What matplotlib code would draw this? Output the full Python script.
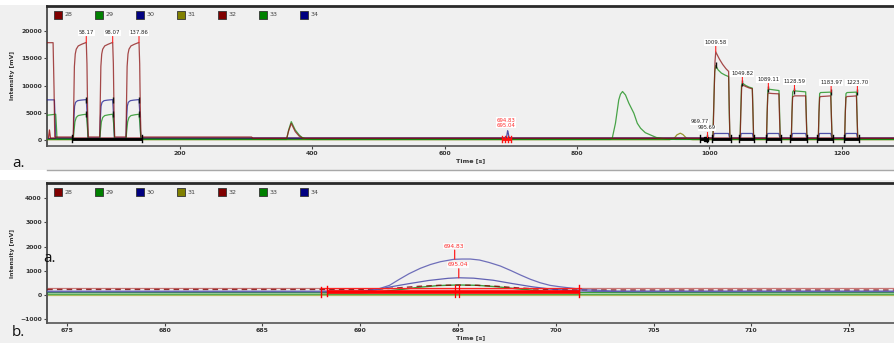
import matplotlib
matplotlib.use('Agg')
import matplotlib.pyplot as plt
from matplotlib.patches import Rectangle
from matplotlib.lines import Line2D

W, H = 894, 343

# ---------------- data ----------------
channels = ['28', '29', '30', '31', '32', '33', '34']
channel_colors = ['#800000', '#008000', '#000080', '#808000', '#800000', '#008000', '#000080']

# Panel a (full run, time in s, intensity in mV)
a_t_28 = [-2, 8, 9.5, 10.5,
          38.5, 39.3, 40.2, 41.5, 43, 46, 51, 58.17, 59.2, 60.2, 61.2,
          78.5, 79.3, 80.2, 81.5, 83, 86, 91, 98.07, 99.1, 100.1, 101.1,
          118.2, 119, 119.9, 121.2, 122.7, 125.7, 130.7, 137.86, 138.9, 139.9, 140.9,
          308, 310, 361, 364, 368, 374, 380, 386,
          1005.5, 1007, 1008.5, 1009.58, 1015, 1020, 1025, 1029, 1030, 1031,
          1046.5, 1047.5, 1048.8, 1049.82, 1055, 1060, 1064.8, 1065.8, 1066.8,
          1086.3, 1087.3, 1088.3, 1089.11, 1095, 1105, 1106, 1107,
          1123.8, 1124.8, 1125.8, 1128.59, 1140, 1145.4, 1146.4, 1147.4,
          1164.6, 1165.6, 1166.6, 1168, 1176, 1183.4, 1184.4, 1185.4,
          1204.4, 1205.4, 1206.4, 1208, 1216, 1222.2, 1223.2, 1224.2, 1285]
a_v_28 = [17900, 17900, 9000, 500,
          500, 7000, 13500, 15800, 16700, 17300, 17600, 17950, 14000, 5000, 500,
          500, 7000, 13500, 15800, 16700, 17300, 17600, 17950, 14000, 5000, 500,
          500, 7000, 13500, 15800, 16700, 17300, 17600, 17950, 14000, 5000, 500,
          500, 250, 250, 1600, 3000, 1500, 650, 250,
          250, 8000, 14500, 16200, 14900, 13900, 13100, 12600, 6000, 250,
          250, 5000, 9800, 10130, 9800, 9550, 9390, 5000, 250,
          250, 5000, 8400, 8590, 8520, 8460, 4000, 250,
          250, 5000, 7900, 8090, 8090, 8090, 4000, 250,
          250, 5000, 7800, 7960, 8020, 8090, 4000, 250,
          250, 5000, 7800, 7960, 8020, 8090, 4000, 250, 250]

a_t_29 = [-2, 5, 12, 13, 14,
          38.5, 39.5, 41, 43, 46, 52, 58.17, 59.5, 61,
          78.5, 79.5, 81, 83, 86, 92, 98.07, 99.5, 101,
          118.2, 119.2, 120.7, 122.7, 125.7, 131.7, 137.86, 139.2, 140.7,
          361, 364, 368, 374, 380, 384, 390, 400,
          850, 853, 858, 863, 865.6, 868.7, 873.2, 878.2, 885.8, 891, 896, 903, 911, 920, 935, 950, 1285]
a_v_29 = [4500, 4600, 4700, 2500, 100,
          100, 1500, 3300, 4100, 4450, 4600, 4700, 3000, 100,
          100, 1500, 3300, 4100, 4450, 4600, 4700, 3000, 100,
          100, 1500, 3300, 4100, 4450, 4600, 4700, 3000, 100,
          50, 1800, 3330, 1800, 870, 450, 150, 50,
          50, 200, 3030, 7350, 8400, 8890, 8240, 6740, 4890, 3030, 2110, 1300, 870, 400, 100, 50, 50]

a_t_30 = [-2, 10, 11, 12,
          38.5, 39.5, 40.5, 42, 45, 50, 58.17, 59.3, 60.8,
          78.5, 79.5, 80.5, 82, 85, 90, 98.07, 99.2, 100.7,
          118.2, 119.2, 120.2, 121.7, 124.7, 129.7, 137.86, 139, 140.5,
          693, 694, 695, 696, 697, 699,
          1006, 1007, 1029, 1030.5, 1047, 1048, 1065, 1066.5, 1087, 1088, 1105, 1106.5,
          1124.5, 1125.5, 1145.5, 1147, 1165.3, 1166.3, 1183.5, 1185, 1205, 1206, 1222.3, 1223.8, 1285]
a_v_30 = [7350, 7350, 4000, 300,
          300, 4000, 6200, 6900, 7200, 7300, 7400, 5000, 300,
          300, 4000, 6200, 6900, 7200, 7300, 7400, 5000, 300,
          300, 4000, 6200, 6900, 7200, 7300, 7400, 5000, 300,
          300, 900, 1650, 1200, 500, 300,
          300, 1150, 1150, 300, 300, 1150, 1150, 300, 300, 1150, 1150, 300,
          300, 1150, 1150, 300, 300, 1150, 1150, 300, 300, 1150, 1150, 300, 300]

a_t_31 = [-2, 940, 947, 951, 956, 960, 964, 968, 975, 1285]
a_v_31 = [0, 0, 300, 900, 1200, 950, 450, 100, 0, 0]

a_t_32 = [-2, 1, 2.5, 4, 1285]
a_v_32 = [300, 300, 1800, 300, 300]

a_t_33 = [-2, 1005, 1006.5, 1008, 1009.6, 1013, 1018, 1024, 1029, 1030, 1031,
          1046.3, 1047.3, 1048.5, 1049.8, 1055, 1060, 1064.9, 1065.9, 1066.9,
          1086.3, 1087.3, 1088.3, 1089.1, 1097, 1105.2, 1106.2, 1107.2,
          1123.8, 1124.8, 1125.8, 1127, 1136, 1145.5, 1146.5, 1147.5,
          1164.6, 1165.6, 1166.6, 1168, 1176, 1183.4, 1184.4, 1185.4,
          1204.4, 1205.4, 1206.4, 1208, 1215, 1222.2, 1223.2, 1224.2, 1285]
a_v_33 = [50, 50, 6000, 12500, 13700, 12900, 12300, 11900, 11650, 5000, 50,
          50, 5000, 10000, 10440, 10000, 9700, 9520, 5000, 50,
          50, 5000, 9100, 9330, 9200, 9070, 4500, 50,
          50, 5000, 8800, 9020, 8930, 8830, 4500, 50,
          50, 5000, 8500, 8700, 8740, 8780, 4500, 50,
          50, 5000, 8500, 8700, 8740, 8780, 4500, 50, 50]

a_t_34 = [-2, 1285]
a_v_34 = [380, 380]

a_peak_labels = ['58.17', '98.07', '137.86', '1009.58', '1049.82', '1089.11', '1128.59', '1183.97', '1223.70']
a_peak_times = [58.17, 98.07, 137.86, 1009.58, 1049.82, 1089.11, 1128.59, 1183.97, 1223.70]
a_peak_values = [17950, 17950, 17950, 16200, 10440, 9330, 9020, 8780, 8780]

# integration marks (black ticks) on the early pulses: blue and green plateau ends
a_mark_times = [58.17, 98.07, 137.86, 58.17, 98.07, 137.86, 1009.58, 1049.82, 1089.11, 1128.59, 1183.97, 1223.70]
a_mark_values = [7400, 7400, 7400, 4700, 4700, 4700, 13700, 10440, 9330, 9020, 8780, 8780]

a_int_segments = [(36.5, 142), (1004, 1032), (1045, 1068), (1085, 1108), (1122, 1148), (1163, 1187), (1203, 1226), (986, 997)]

a_small_labels = ['969.77', '995.69']
a_small_times = [985.0, 996.5]
a_small_values = [3300, 2200]

a_red_labels = ['694.83', '695.04']
a_red_times = [693.2, 693.2]
a_red_values = [3590, 2670]

# Panel b (zoom 674 - 717 s)
b_t_28 = [674, 717.3]
b_v_28 = [300, 300]
b_t_32 = [674, 690, 691, 692, 693, 694, 695, 696, 697, 698, 699, 700, 701, 704.6, 717.3]
b_v_32 = [230, 230, 250, 300, 360, 400, 410, 400, 360, 300, 250, 220, 210, 206, 206]
b_t_30 = [674, 690, 690.8, 691.5, 692.0, 692.5, 693.07, 693.6, 694.1, 694.78, 695.2, 695.63,
          696.1, 696.6, 697.17, 697.7, 698.2, 698.7, 699.2, 699.7, 700.2, 700.9, 701.5, 703, 717.3]
b_v_30 = [160, 160, 220, 400, 647, 880, 1100, 1260, 1373, 1472, 1484, 1484,
          1443, 1340, 1195, 1010, 824, 650, 507, 400, 342, 276, 220, 165, 165]
b_t_34 = [674, 690, 690.8, 691.5, 692.5, 693.5, 694.5, 695.04, 695.8, 696.8, 697.8, 698.8, 699.8, 700.8, 702, 704, 717.3]
b_v_34 = [130, 130, 220, 330, 470, 600, 690, 712, 695, 610, 470, 340, 240, 180, 150, 136, 136]
b_t_29 = [674, 690, 691, 692, 693, 694, 695, 696, 697, 698, 699, 700, 701, 709.5, 717.3]
b_v_29 = [95, 95, 130, 220, 320, 390, 415, 400, 340, 260, 180, 130, 100, 95, 95]
b_t_33 = [674, 717.3]
b_v_33 = [40, 40]
b_t_31 = [674, 717.3]
b_v_31 = [20, 20]

b_peak_labels = ['694.83', '695.04']
b_peak_times = [694.83, 695.04]
b_peak_values = [1480, 712]

b_int_start, b_int_end = 688.0, 701.3

# ---------------- figure ----------------
fig = plt.figure(figsize=(W / 100, H / 100), dpi=100)
fig.patch.set_facecolor('white')
bg = '#f0f0f0'
fig.add_artist(Rectangle((0, (H - 170) / H), 1, 165 / H, transform=fig.transFigure,
                         facecolor=bg, edgecolor='none', zorder=-10))
fig.add_artist(Rectangle((0, 0), 1, (H - 180) / H, transform=fig.transFigure,
                         facecolor=bg, edgecolor='none', zorder=-10))
fig.add_artist(Line2D([47 / W, 1], [(H - 170) / H] * 2, transform=fig.transFigure,
                      color='#a8a8a8', lw=1))

axA = fig.add_axes([47 / W, (H - 146) / H, 847 / W, 140 / H])
axB = fig.add_axes([47 / W, (H - 323.3) / H, 847 / W, 140 / H])

tickfont = dict(size=4.4, weight='bold', color='#333333')


def style(ax):
    ax.set_facecolor(bg)
    ax.spines['right'].set_visible(False)
    ax.spines['top'].set_color('#2a2a2a')
    ax.spines['top'].set_linewidth(2.0)
    ax.spines['left'].set_color('#555555')
    ax.spines['left'].set_linewidth(1.4)
    ax.spines['bottom'].set_color('#555555')
    ax.spines['bottom'].set_linewidth(1.2)
    ax.tick_params(direction='out', length=2.5, width=0.8, color='#444444', pad=1.2)
    for lab in ax.get_xticklabels() + ax.get_yticklabels():
        lab.set_fontsize(tickfont['size'])
        lab.set_fontweight('bold')
        lab.set_color(tickfont['color'])
    ax.set_ylabel('Intensity [mV]', fontsize=4.3, fontweight='bold', color='#333333', labelpad=4)
    ax.set_xlabel('Time [s]', fontsize=4.6, fontweight='bold', color='#333333', labelpad=1.5)
    # legend
    for i, (name, col) in enumerate(zip(channels, channel_colors)):
        x0 = (58 - 47 + i * 41) / 847
        ax.plot([x0], [0.937], marker='s', ms=5.2, mfc=col, mec='#333333', mew=0.6,
                transform=ax.transAxes, clip_on=False, zorder=10)
        ax.text(x0 + 7 / 847, 0.937, name, transform=ax.transAxes, fontsize=4.6,
                color='#444444', va='center', ha='left', zorder=10)


# ----- panel a -----
axA.set_xlim(-1.2, 1279)
axA.set_ylim(-1162, 24668)
axA.set_xticks([200, 400, 600, 800, 1000, 1200])
axA.set_yticks([0, 5000, 10000, 15000, 20000])

axA.plot(a_t_34, a_v_34, color='#000080', lw=0.9, alpha=0.85, zorder=2)
axA.plot(a_t_32, a_v_32, color='#900000', lw=0.9, alpha=0.8, zorder=2)
axA.plot(a_t_31, a_v_31, color='#808000', lw=0.9, alpha=0.8, zorder=3)
axA.plot(a_t_30, a_v_30, color='#1a1a90', lw=0.9, alpha=0.75, zorder=3)
axA.plot(a_t_29, a_v_29, color='#108a10', lw=0.9, alpha=0.75, zorder=3)
axA.plot(a_t_33, a_v_33, color='#108a10', lw=0.9, alpha=0.75, zorder=4)
axA.plot(a_t_28, a_v_28, color='#8b1010', lw=0.9, alpha=0.75, zorder=4)

axA.plot(a_mark_times, a_mark_values, ls='none', marker='|', ms=4, mew=1.0, color='#111111', zorder=5)

for s, e in a_int_segments:
    axA.plot([s, e], [200, 200], color='black', lw=2.0, solid_capstyle='butt', zorder=5)
    for xx in (s, e):
        axA.plot([xx, xx], [-500, 900], color='black', lw=1.0, zorder=5)
axA.plot([995.5], [200], marker='s', ms=3.5, color='black', zorder=6)
axA.plot([995.69, 995.69], [500, 1500], color='#ff2020', lw=0.8, zorder=6)

# red markers at ~695
axA.plot([686.7, 700.3], [100, 100], color='#ff1010', lw=2.0, solid_capstyle='butt', zorder=6)
for xx in (686.7, 691.5, 695, 700.3):
    axA.plot([xx, xx], [-400, 700], color='#ff1010', lw=1.0, zorder=6)

# peak labels
for lab, t, v in zip(a_peak_labels, a_peak_times, a_peak_values):
    axA.annotate('', xy=(t, v), xytext=(0, 6), textcoords='offset pixels',
                 arrowprops=dict(arrowstyle='-', color='#ff2020', lw=0.8, shrinkA=0, shrinkB=0),
                 zorder=7)
    axA.annotate(lab, xy=(t, v), xytext=(0, 9.5), textcoords='offset pixels',
                 ha='center', va='center', fontsize=3.9, color='#222222', zorder=8,
                 bbox=dict(boxstyle='square,pad=0.15', fc='white', ec='none'))
for lab, t, v in zip(a_small_labels, a_small_times, a_small_values):
    axA.text(t, v, lab, ha='center', va='center', fontsize=3.7, color='#222222', zorder=8,
             bbox=dict(boxstyle='square,pad=0.05', fc='white', ec='none'))
for lab, t, v in zip(a_red_labels, a_red_times, a_red_values):
    axA.text(t, v, lab, ha='center', va='center', fontsize=3.9, color='#ff3030', zorder=8,
             bbox=dict(boxstyle='square,pad=0.1', fc='white', ec='none'))
style(axA)

# ----- panel b -----
axB.set_xlim(673.99, 717.29)
axB.set_ylim(-1165, 4606)
axB.set_xticks([675, 680, 685, 690, 695, 700, 705, 710, 715])
axB.set_yticks([-1000, 0, 1000, 2000, 3000, 4000])

axB.fill_between([b_int_start, b_int_end], [0, 0], [310, 310], color='#ff8080', alpha=0.45, lw=0, zorder=1)
axB.plot(b_t_28, b_v_28, color='#c05a5a', lw=0.9, alpha=0.8, zorder=2)
axB.plot(b_t_31, b_v_31, color='#b0b040', lw=0.9, alpha=0.8, zorder=2)
axB.plot(b_t_33, b_v_33, color='#30a030', lw=0.9, alpha=0.8, zorder=2)
axB.plot(b_t_29, b_v_29, color='#108a10', lw=1.0, alpha=0.8, zorder=3)
axB.plot(b_t_32, b_v_32, color='#800000', lw=1.0, alpha=0.8, ls=(0, (4, 3)), zorder=3)
axB.plot(b_t_34, b_v_34, color='#4848a8', lw=0.9, alpha=0.85, zorder=3)
axB.plot(b_t_30, b_v_30, color='#5858b0', lw=0.9, alpha=0.85, zorder=3)

axB.plot([688.3, 701.2], [110, 110], color='#ff0000', lw=2.6, solid_capstyle='butt', zorder=5)
axB.plot([b_int_start, b_int_end], [300, 300], color='#ff2020', lw=0.8, zorder=5)
for xx, lo, hi in ((688.0, -100, 330), (688.3, -40, 380), (701.2, -100, 420)):
    axB.plot([xx, xx], [lo, hi], color='#ff0000', lw=1.0, zorder=5)
for t, v in zip(b_peak_times, b_peak_values):
    axB.annotate('', xy=(t, v), xytext=(0, 9), textcoords='offset pixels',
                 arrowprops=dict(arrowstyle='-', color='#ff2020', lw=0.9, shrinkA=0, shrinkB=0),
                 zorder=7)
    axB.plot([t, t], [-80, 420], color='#ff0000', lw=0.9, zorder=6)
for lab, t, v in zip(b_peak_labels, b_peak_times, b_peak_values):
    axB.annotate(lab, xy=(t, v), xytext=(-1, 13), textcoords='offset pixels',
                 ha='center', va='center', fontsize=4.2, color='#ff3030', zorder=8,
                 bbox=dict(boxstyle='square,pad=0.1', fc='white', ec='none', alpha=0.8))
style(axB)

# panel letters
fig.text(12 / W, 1 - 163 / H, 'a.', fontsize=11, family='Open Sans', va='center', ha='left', color='#111111')
fig.text(43 / W, 1 - 258 / H, 'a.', fontsize=11, family='Open Sans', va='center', ha='left', color='#111111')
fig.text(12 / W, 1 - 332 / H, 'b.', fontsize=11, family='Open Sans', va='center', ha='left', color='#111111')

fig.savefig('out.png', dpi=100, facecolor=fig.get_facecolor())
